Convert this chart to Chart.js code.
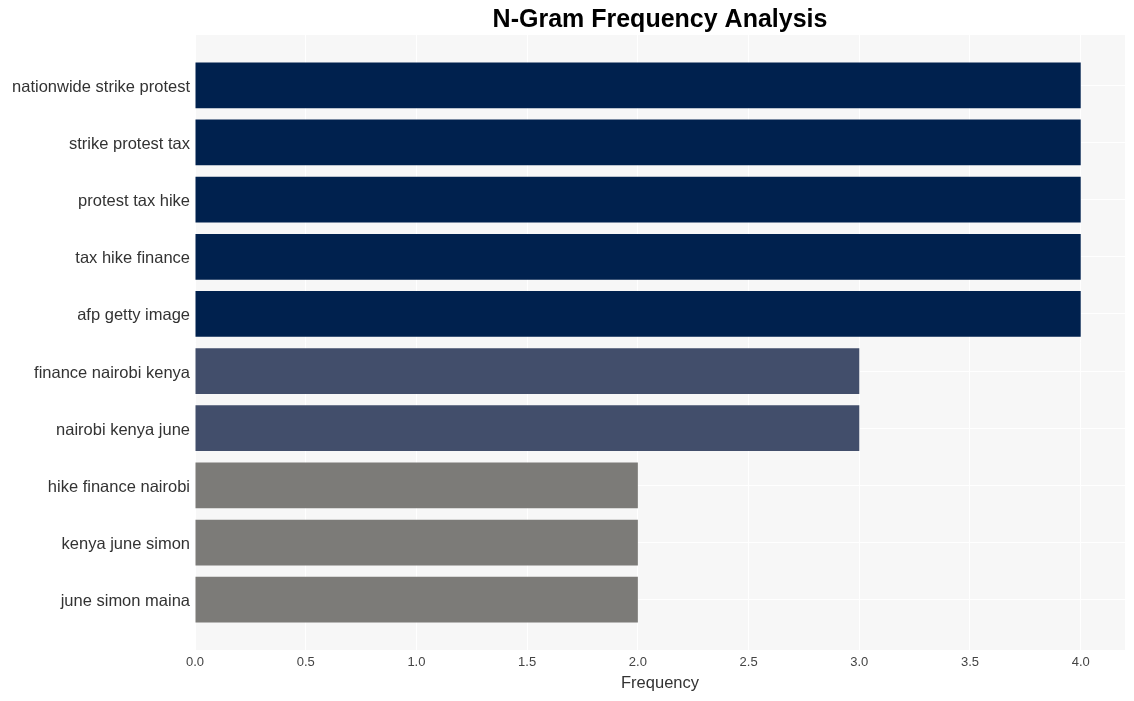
<!DOCTYPE html>
<html>
<head>
<meta charset="utf-8">
<title>N-Gram Frequency Analysis</title>
<script src="https://cdn.jsdelivr.net/npm/chart.js@4/dist/chart.umd.min.js"></script>
<style>
  body { margin: 0; background: #ffffff; }
  canvas { display: block; }
</style>
</head>
<body>
<canvas id="ngramChart" width="1134" height="701"></canvas>
<script>
const ngrams = [
  "nationwide strike protest",
  "strike protest tax",
  "protest tax hike",
  "tax hike finance",
  "afp getty image",
  "finance nairobi kenya",
  "nairobi kenya june",
  "hike finance nairobi",
  "kenya june simon",
  "june simon maina",
];
const frequencies = [4, 4, 4, 4, 4, 3, 3, 2, 2, 2];
const xTicks = [0, 0.5, 1, 1.5, 2, 2.5, 3, 3.5, 4];

// colour by frequency (cividis-like steps)
function barColor(v) {
  if (v >= 4) return "#00214e";
  if (v >= 3) return "#424e6b";
  return "#7c7b78";
}

// grey panel behind the bars
const panelBackground = {
  id: "panelBackground",
  beforeDraw(chart) {
    const { ctx, chartArea } = chart;
    ctx.save();
    ctx.fillStyle = "#f7f7f7";
    ctx.fillRect(chartArea.left, chartArea.top, chartArea.right - chartArea.left, chartArea.bottom - chartArea.top);
    ctx.restore();
  },
};

const FONT = "'Liberation Sans', Arial, sans-serif";

function renderChart() {
  const ctx = document.getElementById("ngramChart").getContext("2d");

  new Chart(ctx, {
    type: "bar",
    data: {
      datasets: [
        {
          label: "Frequency",
          data: frequencies.map((v, i) => ({ x: v, y: i })),
          backgroundColor: frequencies.map(barColor),
          borderWidth: 0,
          barPercentage: 0.8,
          categoryPercentage: 1.0,
        },
      ],
    },
    options: {
      indexAxis: "y",
      responsive: false,
      animation: false,
      layout: { padding: { left: 0, right: 9, top: 0, bottom: 0 } },
      plugins: {
        legend: { display: false },
        tooltip: { enabled: false },
        title: {
          display: true,
          text: "N-Gram Frequency Analysis",
          fullSize: false,
          color: "#000000",
          font: { family: FONT, size: 25, weight: "bold" },
          padding: { top: 5, bottom: 0 },
        },
      },
      scales: {
        x: {
          type: "linear",
          min: 0,
          max: 4.2,
          afterBuildTicks: (scale) => {
            scale.ticks = xTicks.map((v) => ({ value: v }));
          },
          afterFit: (scale) => {
            scale.height = 51;
          },
          ticks: {
            color: "#444444",
            font: { family: FONT, size: 13 },
            padding: 5,
            callback: (v) => Number(v).toFixed(1),
          },
          grid: { color: "#ffffff", lineWidth: 1, drawTicks: false },
          border: { display: false },
          title: {
            display: true,
            text: "Frequency",
            color: "#333333",
            font: { family: FONT, size: 16.5 },
            padding: { top: 0, bottom: 8 },
          },
        },
        y: {
          type: "linear",
          reverse: true,
          offset: false,
          min: -0.88,
          max: 9.88,
          afterBuildTicks: (scale) => {
            scale.ticks = ngrams.map((_, i) => ({ value: i }));
          },
          afterFit: (scale) => {
            scale.width = 195;
          },
          ticks: {
            color: "#333333",
            font: { family: FONT, size: 16.5 },
            padding: 5,
            labelOffset: 2,
            callback: (v) => ngrams[v],
          },
          grid: { color: "#ffffff", lineWidth: 1, drawTicks: false, offset: false },
          border: { display: false },
        },
      },
    },
    plugins: [panelBackground],
  });
}

document.addEventListener("DOMContentLoaded", renderChart);
</script>
</body>
</html>
